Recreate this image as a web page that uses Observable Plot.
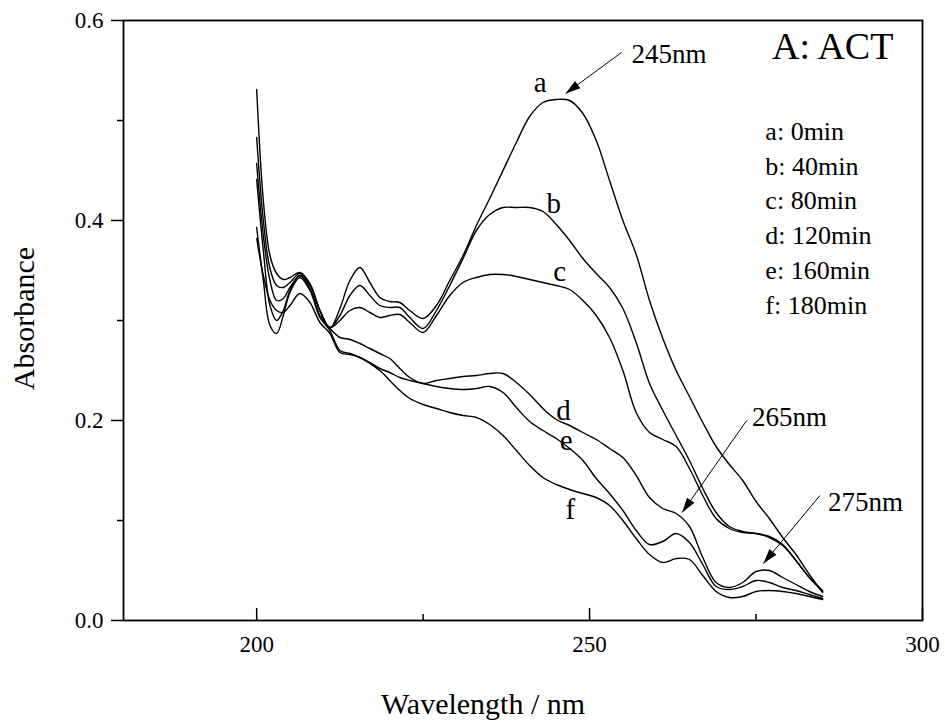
<!DOCTYPE html>
<html>
<head>
<meta charset="utf-8">
<script src="https://cdn.jsdelivr.net/npm/d3@7"></script>
<script src="https://cdn.jsdelivr.net/npm/@observablehq/plot@0.6"></script>
<style>
  body { margin: 0; background: #ffffff; }
</style>
</head>
<body>
<div id="chart"></div>
<script>
// ---------------- data ----------------
const wavelengths = [200, 201, 202, 203, 204, 205, 206.5, 208, 209.5, 211, 212.5, 214, 215.5, 217, 218.5, 220, 221.5, 223, 225, 227, 229, 231, 233, 235, 237, 239, 241, 243, 245, 247, 249, 251, 253, 255, 257, 259, 261, 263, 265, 267, 269, 271, 273, 275, 277, 279, 281, 283, 285];

const seriesNames = ["a", "b", "c", "d", "e", "f"];

const absA = [0.531, 0.420, 0.365, 0.347, 0.341, 0.343, 0.348, 0.337, 0.310, 0.292,
  0.312, 0.340, 0.353, 0.338, 0.323, 0.319, 0.318, 0.310, 0.302, 0.315,
  0.340, 0.365, 0.395, 0.422, 0.450, 0.478, 0.504, 0.518, 0.521, 0.520,
  0.507, 0.480, 0.440, 0.400, 0.366, 0.320, 0.282, 0.250, 0.224, 0.198,
  0.174, 0.156, 0.140, 0.119, 0.102, 0.083, 0.066, 0.046, 0.028];

const absB = [0.483, 0.400, 0.352, 0.335, 0.333, 0.338, 0.347, 0.336, 0.310, 0.293,
  0.305, 0.325, 0.335, 0.325, 0.315, 0.313, 0.313, 0.303, 0.292, 0.310,
  0.335, 0.362, 0.390, 0.406, 0.413, 0.413, 0.413, 0.409, 0.396, 0.380,
  0.362, 0.347, 0.333, 0.312, 0.278, 0.237, 0.210, 0.185, 0.160, 0.132,
  0.108, 0.094, 0.089, 0.087, 0.084, 0.076, 0.060, 0.043, 0.029];

const absC = [0.457, 0.385, 0.340, 0.320, 0.322, 0.333, 0.345, 0.335, 0.310, 0.293,
  0.300, 0.310, 0.313, 0.308, 0.303, 0.305, 0.306, 0.298, 0.288, 0.305,
  0.325, 0.338, 0.343, 0.346, 0.346, 0.344, 0.341, 0.338, 0.335, 0.331,
  0.320, 0.305, 0.283, 0.250, 0.208, 0.188, 0.181, 0.174, 0.152, 0.125,
  0.102, 0.092, 0.088, 0.087, 0.083, 0.075, 0.060, 0.043, 0.030];

const absD = [0.441, 0.370, 0.315, 0.300, 0.310, 0.330, 0.345, 0.332, 0.305, 0.292,
  0.283, 0.281, 0.277, 0.272, 0.267, 0.262, 0.252, 0.243, 0.237, 0.240,
  0.242, 0.244, 0.245, 0.247, 0.247, 0.238, 0.226, 0.212, 0.201, 0.195,
  0.188, 0.181, 0.172, 0.163, 0.145, 0.123, 0.112, 0.107, 0.094, 0.063,
  0.038, 0.033, 0.038, 0.049, 0.050, 0.043, 0.036, 0.029, 0.024];

const absE = [0.393, 0.340, 0.295, 0.287, 0.305, 0.328, 0.343, 0.330, 0.303, 0.290,
  0.270, 0.267, 0.263, 0.258, 0.252, 0.248, 0.243, 0.240, 0.237, 0.234,
  0.232, 0.231, 0.232, 0.234, 0.228, 0.213, 0.199, 0.190, 0.182, 0.172,
  0.160, 0.142, 0.127, 0.110, 0.090, 0.076, 0.079, 0.087, 0.078, 0.056,
  0.034, 0.031, 0.034, 0.040, 0.038, 0.033, 0.030, 0.026, 0.022];

const absF = [0.382, 0.345, 0.320, 0.310, 0.308, 0.315, 0.327, 0.318, 0.298, 0.287,
  0.268, 0.266, 0.263, 0.257, 0.250, 0.240, 0.230, 0.222, 0.216, 0.212,
  0.208, 0.205, 0.203, 0.196, 0.185, 0.170, 0.155, 0.143, 0.136, 0.131,
  0.127, 0.123, 0.115, 0.100, 0.082, 0.066, 0.058, 0.062, 0.061, 0.045,
  0.029, 0.023, 0.024, 0.029, 0.030, 0.029, 0.027, 0.024, 0.021];

const seriesValues = [absA, absB, absC, absD, absE, absF];

// curve letter labels (wavelength, absorbance of baseline)
const curveLabels = ["a", "b", "c", "d", "e", "f"];
const curveLabelX = [242.6, 244.6, 245.5, 246.1, 246.5, 247.1];
const curveLabelY = [0.529, 0.408, 0.340, 0.201, 0.171, 0.102];

// legend text
const legendLines = ["a: 0min", "b: 40min", "c: 80min", "d: 120min", "e: 160min", "f: 180min"];
const legendX = 276.4;
const legendY = [0.481, 0.446, 0.412, 0.377, 0.342, 0.307];

const panelTitle = "A: ACT";
const panelTitleX = 277.4;
const panelTitleY = 0.562;

// peak annotations
const peakLabels = ["245nm", "265nm", "275nm"];
const peakLabelX = [256.3, 274.4, 285.8];
const peakLabelY = [0.558, 0.195, 0.110];
const arrowX1 = [254.8, 273.6, 284.6];
const arrowY1 = [0.568, 0.200, 0.125];
const arrowX2 = [246.4, 263.9, 276.1];
const arrowY2 = [0.527, 0.108, 0.057];

// ticks
const xMajorTicks = [200, 250, 300];
const xMinorTicks = [225, 275];
const yMajorTicks = [0, 0.2, 0.4, 0.6];
const yMinorTicks = [0.1, 0.3, 0.5];

const xTitle = "Wavelength / nm";
const yTitle = "Absorbance";

// ---------------- layout ----------------
const W = 945, H = 721;
const mL = 123, mR = 23, mT = 20, mB = 101;
const xDomain = [180, 300], yDomain = [0, 0.6];
const kx = (W - mL - mR) / (xDomain[1] - xDomain[0]);
const ky = (H - mT - mB) / (yDomain[1] - yDomain[0]);

const rows = seriesNames.flatMap((s, i) =>
  wavelengths.map((w, j) => ({series: s, wavelength: w, absorbance: seriesValues[i][j]}))
);

const arrowIdx = peakLabels.map((_, i) => i);
const arrowAngle = (i) => {
  const dx = (arrowX2[i] - arrowX1[i]) * kx;
  const dy = -(arrowY2[i] - arrowY1[i]) * ky;
  return Math.atan2(dx, -dy) * 180 / Math.PI;
};
// filled, slender arrowhead with its tip at the origin, pointing "up"
const arrowHead = {
  draw(ctx) {
    ctx.moveTo(0, 0);
    ctx.lineTo(-4.5, 15);
    ctx.lineTo(4.5, 15);
    ctx.closePath();
  }
};

const serif = "'Liberation Serif', 'Times New Roman', Times, serif";

const chart = Plot.plot({
  width: W,
  height: H,
  marginLeft: mL,
  marginRight: mR,
  marginTop: mT,
  marginBottom: mB,
  style: {fontFamily: serif, fontSize: "23px", color: "black", background: "white"},
  x: {domain: xDomain, axis: null},
  y: {domain: yDomain, axis: null},
  marks: [
    Plot.line(rows, {x: "wavelength", y: "absorbance", z: "series", stroke: "black", strokeWidth: 1.4, curve: "catmull-rom"}),
    Plot.frame({stroke: "black", strokeWidth: 1.8}),
    // inward x ticks
    Plot.ruleX(xMajorTicks, {x: d => d, y1: 0, y2: 0.012, stroke: "black", strokeWidth: 1.5}),
    Plot.ruleX(xMinorTicks, {x: d => d, y1: 0, y2: 0.006, stroke: "black", strokeWidth: 1.5}),
    Plot.axisX({ticks: xMajorTicks, tickSize: 0, tickPadding: 15, fontSize: 23, label: null, tickFormat: d => String(d)}),
    Plot.axisY({ticks: yMajorTicks, tickSize: 12, tickPadding: 8, fontSize: 23, strokeWidth: 1.5, label: null, tickFormat: d3.format(".1f")}),
    Plot.axisY({ticks: yMinorTicks, tickSize: 6, strokeWidth: 1.5, label: null, tickFormat: () => ""}),
    // axis titles
    Plot.text([xTitle], {text: d => d, frameAnchor: "bottom", textAnchor: "middle", dx: -40, dy: 93, lineAnchor: "bottom", fontSize: 30}),
    Plot.text([yTitle], {text: d => d, frameAnchor: "left", textAnchor: "middle", rotate: -90, dx: -90, dy: -2, lineAnchor: "bottom", fontSize: 30}),
    // curve letters
    Plot.text(curveLabels, {x: (d, i) => curveLabelX[i], y: (d, i) => curveLabelY[i], text: d => d, lineAnchor: "bottom", textAnchor: "middle", fontSize: 29}),
    // panel title and legend
    Plot.text([panelTitle], {x: panelTitleX, y: panelTitleY, text: d => d, lineAnchor: "bottom", textAnchor: "start", fontSize: 38}),
    Plot.text(legendLines, {x: legendX, y: (d, i) => legendY[i], text: d => d, lineAnchor: "bottom", textAnchor: "start", fontSize: 26}),
    // peak annotations
    Plot.text(peakLabels, {x: (d, i) => peakLabelX[i], y: (d, i) => peakLabelY[i], text: d => d, lineAnchor: "bottom", textAnchor: "start", fontSize: 27}),
    Plot.link(arrowIdx, {x1: i => arrowX1[i], y1: i => arrowY1[i], x2: i => arrowX2[i], y2: i => arrowY2[i], stroke: "black", strokeWidth: 1}),
    Plot.dot(arrowIdx, {x: i => arrowX2[i], y: i => arrowY2[i], symbol: arrowHead, rotate: i => arrowAngle(i), fill: "black", stroke: "none"})
  ]
});

document.getElementById("chart").appendChild(chart);
</script>
</body>
</html>
